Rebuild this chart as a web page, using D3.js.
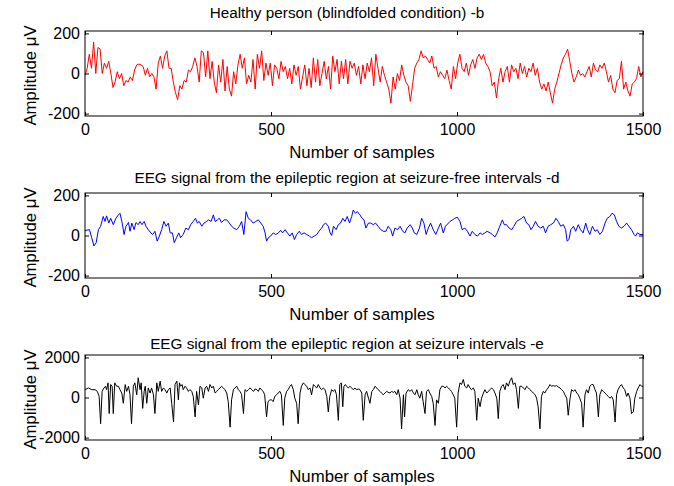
<!DOCTYPE html>
<html>
<head>
<meta charset="utf-8">
<script src="https://cdn.jsdelivr.net/npm/d3@7/dist/d3.min.js"></script>
<style>
  body { margin: 0; background: #fff; }
  text { font-family: "Liberation Sans", Arial, sans-serif; fill: #000; }
</style>
</head>
<body>
<script>
// ---- data ----
const titles = [
  "Healthy person (blindfolded condition) -b",
  "EEG signal from the epileptic region at seizure-free intervals -d",
  "EEG signal from the epileptic region at seizure intervals -e"
];
const xLabel = "Number of samples";
const yLabel = "Amplitude \u03bcV";
const xTicks = [0, 500, 1000, 1500];
const yTicksSmall = [-200, 0, 200];
const yTicksLarge = [-2000, 0, 2000];

// set b: values read at an even sample spacing over 0..1500
const healthyB = [-9, 26, 96, 26, 157, 0, 130, 122, 0, 52, 26, 61, 0, -70, -40, 9, -26, 0, -61, -35, -43, -17, -35, 17, 43, 47, 43, 35, -9, 26, -17, 0, -17, -78, 52, 87, 26, 87, 113, 26, 26, -43, -96, -130, -61, -78, -35, -43, 17, 9, 35, 78, 35, -43, 113, 104, -17, 113, -26, 61, -43, -96, 43, -43, 70, -87, 35, -78, -113, 9, -52, 43, 96, 26, 78, -52, -9, -43, 70, -78, 96, 26, 113, -35, 52, -9, 52, -61, 43, 26, -26, 61, 9, 35, -26, 26, -52, 43, -9, 35, -78, -17, 43, -61, 26, -70, 78, -43, 70, -61, 0, 61, -26, 35, -78, 87, 9, 70, -52, 61, -26, 70, -52, 61, 26, 52, -9, 35, -52, 43, -26, 52, 9, 78, -61, 96, 26, -43, 35, -9, -43, -78, -148, -17, -78, 0, -35, 43, -9, -43, -61, -139, -61, 26, 52, 70, 113, 78, 87, 70, 52, 87, 26, 35, -17, 9, -9, -26, 17, -35, -78, 35, -26, 52, 96, 26, 9, 52, -9, 43, 70, 26, 78, 96, 70, 96, 52, 35, 9, -61, -43, -122, -26, 26, -43, 9, 35, -43, 43, 9, 26, -26, 52, 0, 35, -17, 26, 9, 52, -9, 26, -43, -78, -52, -87, -43, -96, -148, -78, -43, 0, 43, 78, 96, 122, 61, 0, -43, -17, 17, -9, 0, -17, 9, 35, -17, 52, 17, 9, 43, 26, 52, 9, -43, -9, -78, -96, -35, -26, 61, -78, -43, -87, -113, -52, -43, -26, 35, -17, 9];

// set d: [sample, value]
const seizureFreeD = [[0,25],[12,29],[18,-11],[24,-52],[30,-36],[36,29],[42,46],[49,95],[54,70],[58,98],[64,62],[69,86],[76,54],[83,86],[90,103],[94,111],[100,62],[105,5],[110,46],[117,65],[121,21],[126,62],[132,29],[137,65],[143,54],[148,70],[153,54],[159,70],[164,46],[170,29],[177,13],[182,5],[188,21],[194,-28],[200,-3],[206,29],[212,70],[218,46],[224,62],[229,13],[235,13],[240,-36],[246,-11],[252,13],[257,-11],[264,5],[271,37],[278,29],[284,54],[291,70],[297,86],[302,62],[307,70],[314,46],[320,62],[327,70],[332,78],[339,70],[345,103],[350,70],[356,78],[361,86],[367,65],[374,78],[381,78],[388,62],[394,46],[400,37],[408,29],[415,46],[421,70],[427,5],[433,119],[439,86],[445,78],[452,62],[459,70],[466,78],
[479,46],[484,13],[488,-28],[493,-11],[499,-3],[506,13],[513,5],[520,13],[526,26],[531,13],[538,29],[544,13],[551,-3],[557,13],[563,-20],[569,5],[576,21],[582,5],[589,13],[596,5],[603,-3],[609,-11],[616,-3],[623,5],[629,21],[636,37],[641,54],[647,62],[654,46],[659,13],[663,0],[668,46],[675,29],[681,54],[687,62],[693,86],[699,70],[705,95],[711,62],[717,95],[721,127],[727,111],[732,119],[739,103],[745,86],[750,78],[755,37],[762,62],[768,62],[775,54],[781,62],[788,46],[795,29],[802,21],[809,21],[815,46],[822,29],[827,-3],[833,37],[840,29],[847,46],[854,21],[860,13],[866,37],[874,54],[880,37],[885,13],[892,5],[899,37],[905,86],[911,62],[917,5],[923,37],[929,62],[936,29],[943,5],[950,37],[956,62],[963,13],[969,46],
[981,70],[988,78],[994,86],[1001,91],[1008,70],[1014,29],[1021,37],[1028,21],[1035,-3],[1041,21],[1048,5],[1055,-3],[1062,13],[1068,5],[1075,13],[1081,21],[1089,13],[1095,5],[1102,-7],[1108,13],[1115,46],[1122,78],[1127,54],[1133,54],[1140,37],[1147,29],[1153,46],[1160,70],[1167,78],[1174,86],[1180,95],[1187,62],[1193,54],[1199,29],[1205,46],[1211,70],[1218,46],[1225,37],[1232,46],[1238,13],[1245,46],[1252,54],[1259,62],[1266,86],[1272,70],[1279,46],[1286,54],[1292,29],[1296,-28],[1301,-20],[1306,29],[1313,46],[1319,21],[1326,54],[1332,29],[1339,13],[1346,62],[1351,29],[1357,5],[1364,46],[1371,21],[1377,29],[1384,5],[1391,21],[1398,62],[1404,86],[1411,95],[1417,111],[1423,103],[1429,70],[1435,46],[1442,37],[1449,46],[1456,62],[1462,46],[1469,29],[1476,5],[1480,-3],[1485,13],[1492,5],[1500,5]];

// set e: [sample, value]
const seizureE = [[0,391],[9,476],[18,391],[27,391],[33,306],[38,51],[42,-1309],[46,306],[51,476],[55,561],[58,391],[62,731],[65,-799],[69,646],[73,561],[76,-799],[80,731],[85,561],[90,561],[94,391],[99,221],[103,-289],[108,646],[112,306],[117,561],[121,136],[125,-1309],[130,561],[134,731],[139,136],[143,986],[148,391],[151,731],[155,-544],[159,306],[162,561],[166,-289],[170,476],[175,221],[179,476],[184,136],[188,-799],[193,731],[197,306],[202,816],[206,306],[211,476],[215,391],[220,221],[224,391],[229,476],[233,-289],[238,-1224],[242,646],[247,816],[251,-119],[254,731],[257,561],[261,646],[264,391],[269,561],[273,476],[278,306],[282,391],[287,306],[291,51],[296,-969],[300,306],[305,-374],[309,561],[314,476],[318,-34],[323,476],[327,561],[332,306],[336,646],[341,476],[345,561],[350,221],[354,306],[358,391],[363,476],[367,561],[372,476],[376,391],[381,221],[385,-204],[390,-1479],[394,-119],[399,391],[403,476],[408,561],[412,391],[417,306],[421,136],[426,-799],[430,391],[435,306],[439,391],[444,476],[448,391],[453,306],[457,425],[462,391],[466,306],
[470,476],[474,391],[479,306],[483,136],[488,-969],[492,-204],[497,-119],[501,-119],[506,-204],[510,51],[515,136],[519,221],[524,306],[528,136],[533,-1394],[537,-34],[542,306],[546,391],[551,561],[555,646],[560,391],[564,-34],[569,-289],[573,-1309],[578,221],[582,561],[587,731],[591,646],[596,561],[600,391],[605,476],[609,136],[614,646],[618,561],[623,476],[627,646],[632,476],[636,391],[641,476],[645,391],[650,51],[654,-714],[658,51],[663,391],[667,306],[672,391],[676,136],[681,-1139],[685,646],[689,731],[693,-459],[696,561],[700,646],[703,561],[708,476],[712,561],[717,476],[721,391],[726,476],[730,391],[735,425],[739,391],[744,221],[748,-1139],[753,136],[757,306],[762,-34],[766,-289],[771,306],[775,391],[780,561],[784,476],[788,391],[793,306],[797,221],[802,136],[806,221],[811,306],[815,255],[820,221],[824,306],[829,255],[833,306],[838,136],[842,391],[847,-34],[851,-1564],[856,136],[859,-969],[863,221],[869,391],[874,306],[878,391],[883,221],[887,136],[892,391],[896,136],[900,-34],[905,306],[909,-204],[914,-799],[918,306],[923,391],[927,221],[932,51],[936,-289],[941,-1394],[945,-119],[950,-289],[954,391],[959,561],[963,561],[968,476],[972,561],[977,476],
[981,391],[985,306],[990,136],[994,-34],[999,-1479],[1003,221],[1008,731],[1012,646],[1017,901],[1021,561],[1026,476],[1030,646],[1035,476],[1039,391],[1044,476],[1048,306],[1053,-1139],[1057,-34],[1062,-459],[1066,-34],[1071,221],[1075,391],[1080,221],[1084,306],[1089,391],[1093,476],[1098,391],[1102,221],[1107,-34],[1111,-1054],[1115,306],[1120,561],[1124,646],[1129,391],[1133,731],[1138,561],[1142,816],[1147,986],[1151,646],[1156,731],[1160,391],[1165,-544],[1169,561],[1174,561],[1178,476],[1183,391],[1187,561],[1192,476],[1196,391],[1201,306],[1205,221],[1210,136],[1214,-34],[1218,-459],[1223,-1564],[1227,51],[1232,306],[1236,221],[1241,391],[1245,476],[1250,646],[1254,561],[1259,595],[1263,561],[1268,595],[1272,527],[1277,476],[1281,391],[1286,306],[1290,136],[1295,-34],[1299,-884],[1304,-34],[1308,391],[1313,306],[1317,391],[1322,221],[1326,136],[1330,-34],[1335,-289],[1339,-1479],[1344,136],[1348,391],[1353,221],[1357,561],[1362,646],[1366,646],[1371,391],[1375,221],[1380,-969],[1384,136],[1389,391],[1393,306],[1398,221],[1402,136],[1407,51],[1411,-34],[1416,51],[1420,-119],[1425,-1224],[1429,136],[1433,391],[1438,561],[1442,646],[1447,476],[1451,391],[1456,51],[1460,221],[1465,-34],[1469,-799],[1474,-714],[1478,-34],[1483,306],[1487,476],[1492,646],[1496,561],[1500,561]];

const nSamples = 1500;
const stepB = nSamples / (healthyB.length - 1);

// ---- layout ----
const width = 674, height = 486;
const left = 85, right = 643, boxH = 85;
const titleX = 347, xLabelX = 362;

const panels = [
  { title: titles[0], data: healthyB.map((v, i) => [i * stepB, v]), color: "#ff0000",
    yDomain: [-212, 212], yTicks: yTicksSmall, top: 31, titleY: 18 },
  { title: titles[1], data: seizureFreeD, color: "#0000ff",
    yDomain: [-212, 212], yTicks: yTicksSmall, top: 193, titleY: 183 },
  { title: titles[2], data: seizureE, color: "#000000",
    yDomain: [-2120, 2120], yTicks: yTicksLarge, top: 355, titleY: 349 }
];

const svg = d3.select("body").append("svg")
  .attr("width", width)
  .attr("height", height);

const x = d3.scaleLinear().domain([0, nSamples]).range([left, right]);
const fmt = d => String(d);

panels.forEach(p => {
  const bottom = p.top + boxH;
  const y = d3.scaleLinear().domain(p.yDomain).range([bottom, p.top]);
  const g = svg.append("g");

  // signal
  g.append("path")
    .datum(p.data)
    .attr("fill", "none")
    .attr("stroke", p.color)
    .attr("stroke-width", 1)
    .attr("stroke-linejoin", "round")
    .attr("d", d3.line().x(d => x(d[0])).y(d => y(d[1])));

  // axes, ticks pointing inward
  g.append("g")
    .attr("transform", `translate(0,${bottom})`)
    .call(d3.axisBottom(x).tickValues(xTicks).tickFormat(fmt).tickSizeInner(-4).tickSizeOuter(0).tickPadding(8))
    .call(a => a.select(".domain").remove());
  g.append("g")
    .attr("transform", `translate(0,${p.top})`)
    .call(d3.axisTop(x).tickValues(xTicks).tickFormat("").tickSizeInner(-4).tickSizeOuter(0))
    .call(a => a.select(".domain").remove());
  g.append("g")
    .attr("transform", `translate(${left},0)`)
    .call(d3.axisLeft(y).tickValues(p.yTicks).tickFormat(fmt).tickSizeInner(-4).tickSizeOuter(0).tickPadding(5))
    .call(a => a.select(".domain").remove());
  g.append("g")
    .attr("transform", `translate(${right},0)`)
    .call(d3.axisRight(y).tickValues(p.yTicks).tickFormat("").tickSizeInner(-4).tickSizeOuter(0))
    .call(a => a.select(".domain").remove());

  g.selectAll(".tick text").style("font-size", "16px").style("font-family", "'Liberation Sans', Arial, sans-serif");
  g.selectAll(".tick line").attr("stroke", "#000");

  // box
  g.append("rect")
    .attr("x", left).attr("y", p.top)
    .attr("width", right - left).attr("height", boxH)
    .attr("fill", "none").attr("stroke", "#000").attr("stroke-width", 1);

  // labels
  g.append("text")
    .attr("x", titleX).attr("y", p.titleY)
    .attr("text-anchor", "middle").style("font-size", "15.3px")
    .text(p.title);
  g.append("text")
    .attr("x", xLabelX).attr("y", bottom + 42)
    .attr("text-anchor", "middle").style("font-size", "16.8px")
    .text(xLabel);
  g.append("text")
    .attr("transform", `translate(36,${p.top + boxH / 2 + 2}) rotate(-90)`)
    .attr("text-anchor", "middle").style("font-size", "16.8px")
    .text(yLabel);
});
</script>
</body>
</html>
